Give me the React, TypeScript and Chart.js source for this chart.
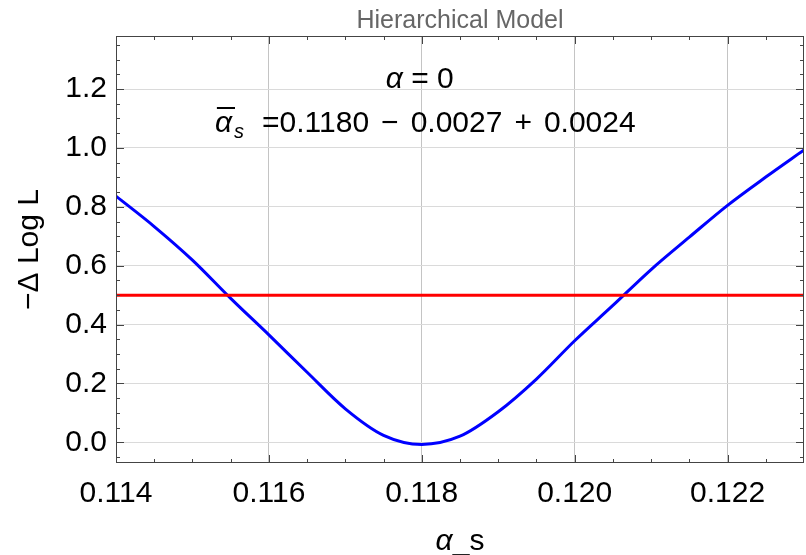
import { useEffect, useRef } from "react";
import { Chart, registerables } from "chart.js";

Chart.register(...registerables);

// ---- data ----
const alphaS = [
  0.114, 0.1145, 0.115, 0.1155, 0.116, 0.1165, 0.117, 0.1175, 0.118, 0.1185,
  0.119, 0.1195, 0.12, 0.1205, 0.121, 0.1215, 0.122, 0.1225, 0.123,
];
const negDeltaLogL = [
  0.836, 0.733, 0.619, 0.489, 0.365, 0.238, 0.114, 0.024, -0.007, 0.021,
  0.104, 0.215, 0.345, 0.465, 0.587, 0.697, 0.805, 0.901, 0.993,
];
const thresholdX = [0.114, 0.123];
const thresholdY = [0.5, 0.5];

const xTickValues = [0.114, 0.116, 0.118, 0.12, 0.122];
const yTickValues = [0.0, 0.2, 0.4, 0.6, 0.8, 1.0, 1.2];
const xRange = [0.114, 0.123];
const yRange = [-0.07, 1.38];
const xMinorStep = 0.0005;
const yMinorStep = 0.05;

const chartTitle = "Hierarchical Model";
const yAxisTitle = "\u2212\u0394 Log L";
const xAxisTitleGreek = "\u03b1";
const xAxisTitleRest = "_s";
const annAlphaValue = "0";
const annCentral = "0.1180";
const annMinus = "0.0027";
const annPlus = "0.0024";

const FONT = "'Liberation Sans', Arial, Helvetica, sans-serif";

const decorPlugin = {
  id: "decor",
  afterDraw(chart: any) {
    const { ctx, chartArea } = chart;
    const { left, right, top, bottom } = chartArea;
    const xs = chart.scales.x;
    const ys = chart.scales.y;
    ctx.save();

    // frame
    ctx.strokeStyle = "#444";
    ctx.lineWidth = 1;
    ctx.strokeRect(left + 0.5, top + 0.5, right - left - 1, bottom - top - 1);

    // inward ticks on all four sides
    ctx.beginPath();
    const nx = Math.round((xRange[1] - xRange[0]) / xMinorStep);
    for (let i = 1; i < nx; i++) {
      const v = xRange[0] + i * xMinorStep;
      const major = i % 4 === 0;
      const len = major ? 8 : 4;
      const px = Math.round(xs.getPixelForValue(v)) + 0.5;
      ctx.moveTo(px, bottom);
      ctx.lineTo(px, bottom - len);
      ctx.moveTo(px, top);
      ctx.lineTo(px, top + len);
    }
    for (let k = -1; k <= 27; k++) {
      const v = k * yMinorStep;
      if (v <= yRange[0] || v >= yRange[1]) continue;
      const major = k % 4 === 0;
      const len = major ? 8 : 4;
      const py = Math.round(ys.getPixelForValue(v)) + 0.5;
      ctx.moveTo(left, py);
      ctx.lineTo(left + len, py);
      ctx.moveTo(right, py);
      ctx.lineTo(right - len, py);
    }
    ctx.stroke();

    // x axis title: italic alpha + "_s"
    ctx.fillStyle = "#000";
    ctx.textBaseline = "alphabetic";
    ctx.textAlign = "left";
    ctx.font = `italic 30px ${FONT}`;
    const wA = ctx.measureText(xAxisTitleGreek).width;
    ctx.font = `30px ${FONT}`;
    const wR = ctx.measureText(xAxisTitleRest).width;
    const cx = (left + right) / 2;
    const sx = cx - (wA + wR) / 2;
    ctx.font = `italic 30px ${FONT}`;
    ctx.fillText(xAxisTitleGreek, sx, 550);
    ctx.font = `30px ${FONT}`;
    ctx.fillText(xAxisTitleRest, sx + wA, 550);

    // annotation line 1: "α = 0"
    const ax = xs.getPixelForValue(0.118) - 2;
    ctx.font = `italic 30px ${FONT}`;
    const w1a = ctx.measureText("\u03b1").width;
    ctx.font = `30px ${FONT}`;
    const line1Rest = " = " + annAlphaValue;
    const w1b = ctx.measureText(line1Rest).width;
    const l1x = ax - (w1a + w1b) / 2;
    ctx.font = `italic 30px ${FONT}`;
    ctx.fillText("\u03b1", l1x, 88);
    ctx.font = `30px ${FONT}`;
    ctx.fillText(line1Rest, l1x + w1a, 88);

    // annotation line 2: "ᾱ_s =0.1180 − 0.0027 + 0.0024" (built right-to-left)
    const base2 = 132;
    const gap = 12;
    ctx.font = `30px ${FONT}`;
    let xr = xs.getPixelForValue(0.12) + 61;
    const pieces = [annPlus, "+", annMinus, "\u2212", "=" + annCentral];
    for (let i = 0; i < pieces.length; i++) {
      const w = ctx.measureText(pieces[i]).width;
      xr -= w;
      ctx.fillText(pieces[i], xr, base2);
      if (i < pieces.length - 1) xr -= gap;
    }
    // italic alpha with overbar and subscript s
    ctx.font = `italic 30px ${FONT}`;
    const wAl = ctx.measureText("\u03b1").width;
    const alX = xs.getPixelForValue(0.116) - 54;
    ctx.fillText("\u03b1", alX, base2);
    ctx.font = `italic 20px ${FONT}`;
    ctx.fillText("s", alX + wAl + 2, base2 + 6);
    ctx.beginPath();
    ctx.lineWidth = 2;
    ctx.strokeStyle = "#000";
    ctx.moveTo(alX + 2, 108);
    ctx.lineTo(alX + wAl + 3, 108);
    ctx.stroke();

    ctx.restore();
  },
};

export default function App() {
  const ref = useRef<HTMLCanvasElement | null>(null);

  useEffect(() => {
    if (!ref.current) return;
    const curve = alphaS.map((x, i) => ({ x, y: negDeltaLogL[i] }));
    const threshold = thresholdX.map((x, i) => ({ x, y: thresholdY[i] }));
    const chart = new Chart(ref.current, {
      type: "line",
      data: {
        datasets: [
          {
            data: threshold,
            borderColor: "#ff0000",
            borderWidth: 3,
            pointRadius: 0,
            fill: false,
          },
          {
            data: curve,
            borderColor: "#0000ff",
            borderWidth: 3,
            pointRadius: 0,
            fill: false,
            cubicInterpolationMode: "monotone",
          },
        ],
      },
      options: {
        animation: false,
        responsive: false,
        devicePixelRatio: 1,
        layout: { padding: { left: 0, right: 2, top: 0, bottom: 0 } },
        plugins: {
          legend: { display: false },
          tooltip: { enabled: false },
          title: {
            display: true,
            text: chartTitle,
            color: "#666",
            fullSize: false,
            font: { family: FONT, size: 25, weight: "normal", lineHeight: 1.1 },
            padding: { top: 7.5, bottom: 1 },
          },
        },
        scales: {
          x: {
            type: "linear",
            min: xRange[0],
            max: xRange[1],
            afterBuildTicks: (scale: any) => {
              scale.ticks = xTickValues.map((value) => ({ value }));
            },
            afterFit: (scale: any) => {
              scale.height = 92;
            },
            grid: { color: "#c4c4c4", lineWidth: 1, drawTicks: false },
            border: { display: false },
            ticks: {
              color: "#000",
              padding: 13,
              maxRotation: 0,
              autoSkip: false,
              font: { family: FONT, size: 30 },
              callback: (v: any) => Number(v).toFixed(3),
            },
          },
          y: {
            type: "linear",
            min: yRange[0],
            max: yRange[1],
            afterBuildTicks: (scale: any) => {
              scale.ticks = yTickValues.map((value) => ({ value }));
            },
            afterFit: (scale: any) => {
              scale.width = 116;
            },
            grid: { color: "#dadada", lineWidth: 1, drawTicks: false },
            border: { display: false },
            ticks: {
              color: "#000",
              padding: 9,
              autoSkip: false,
              font: { family: FONT, size: 30 },
              callback: (v: any) => Number(v).toFixed(1),
            },
            title: {
              display: true,
              text: yAxisTitle,
              color: "#000",
              font: { family: FONT, size: 30, lineHeight: 1.2 },
              padding: { top: 12, bottom: 0 },
            },
          },
        },
      },
      plugins: [decorPlugin],
    });
    return () => chart.destroy();
  }, []);

  return (
    <div style={{ position: "absolute", left: 0, top: 0, width: 806, height: 555 }}>
      <canvas ref={ref} width={806} height={555} style={{ display: "block" }} />
    </div>
  );
}
